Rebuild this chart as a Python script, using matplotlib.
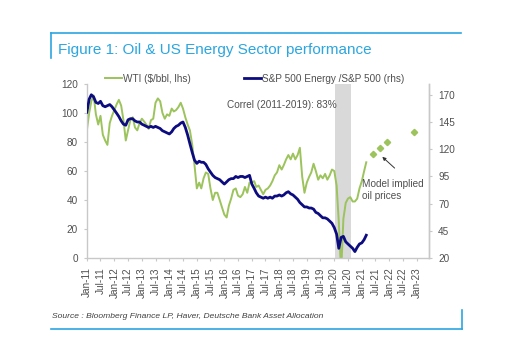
import numpy as np
import pandas as pd
import matplotlib
matplotlib.use("Agg")
import matplotlib.pyplot as plt
from matplotlib.lines import Line2D

plt.rcParams['font.family'] = ['Liberation Sans', 'DejaVu Sans']

# monthly values, Jan-2011 .. Mar-2021
months = pd.date_range('2011-01-01', '2021-03-01', freq='MS')

# WTI ($/bbl), left axis
wti = [88, 100, 108, 112, 99, 92, 98, 85, 81, 78, 93, 98,      # 2011
       102, 106, 109, 105, 95, 81, 88, 95, 97, 90, 88, 93,     # 2012
       96, 94, 92, 89, 95, 96, 107, 110, 108, 100, 96, 99,     # 2013
       98, 103, 101, 102, 104, 107, 103, 97, 92, 88, 78, 64,   # 2014
       48, 52, 48, 55, 59, 58, 48, 40, 45, 45, 40, 35,         # 2015
       30, 28, 36, 41, 47, 48, 43, 42, 44, 49, 45, 52,         # 2016
       52, 53, 49, 50, 47, 44, 47, 48, 50, 53, 57, 59,         # 2017
       64, 61, 64, 68, 71, 68, 72, 68, 71, 76, 56, 45,         # 2018
       52, 56, 59, 65, 60, 54, 57, 55, 58, 54, 57, 61,         # 2019
       60, 50, 25, -10, 27, 38, 41, 42, 39, 39, 41, 48,        # 2020
       53, 60, 66]                                             # 2021

# S&P 500 Energy / S&P 500, right axis
ratio = [154, 166, 170, 168, 163, 162, 164, 160, 159, 160, 161, 159,   # 2011
         156, 153, 150, 146, 143, 142, 147, 148, 148, 146, 145, 145,   # 2012
         143, 142, 141, 140, 141, 140, 141, 140, 139, 137, 136, 135,   # 2013
         134, 136, 139, 141, 142, 144, 145, 140, 133, 125, 117, 110,   # 2014
         107, 109, 108, 108, 106, 102, 99, 96, 94, 93, 92, 90,         # 2015
         88, 90, 92, 93, 93, 95, 94, 95, 95, 94, 95, 96,               # 2016
         88, 84, 80, 77, 76, 75, 76, 75, 76, 75, 77, 77,               # 2017
         78, 77, 78, 80, 81, 79, 78, 76, 74, 71, 69, 67,               # 2018
         67, 66, 66, 65, 62, 61, 59, 57, 57, 56, 54, 52,               # 2019
         48, 42, 29, 39, 40, 35, 33, 31, 29, 26, 30, 33,               # 2020
         34, 37, 41]                                                   # 2021

# model implied oil prices
model_dates = pd.to_datetime(['2021-06-01', '2021-09-01', '2021-12-01', '2022-12-01'])
model_wti = [72, 76, 80, 87]

shade_start, shade_end = pd.Timestamp('2020-01-10'), pd.Timestamp('2020-08-15')

tick_dates = pd.date_range('2011-01-01', '2023-01-01', freq='6MS')
tick_labels = [d.strftime('%b-%y') for d in tick_dates]

green = '#9cc35c'
navy = '#0c0c80'
blue = '#2ba6e0'
grey = '#c8c8c8'
txt = '#505050'

fig = plt.figure(figsize=(5.14, 3.6), dpi=100)
ax = fig.add_axes([0.169, 0.283, 0.666, 0.484])
ax2 = ax.twinx()

ax.axvspan(shade_start, shade_end, color='#d9d9d9', lw=0, zorder=0)
ax.plot(months, wti, color=green, lw=1.4, label='WTI (\\$/bbl, lhs)')
ax.plot(model_dates, model_wti, ls='none', marker='D', ms=3.2, color=green, mec=green)
ax2.plot(months, ratio, color=navy, lw=2.0, label='S&P 500 Energy /S&P 500 (rhs)')

ax.set_xlim(pd.Timestamp('2011-01-01'), pd.Timestamp('2023-06-15'))
ax.set_ylim(0, 120)
ax.set_yticks(np.arange(0, 121, 20))
ax2.set_ylim(20, 180)
ax2.set_yticks(np.arange(20, 171, 25))
ax.set_xticks(tick_dates)
ax.set_xticklabels(tick_labels, rotation=90)

for a in (ax, ax2):
    a.spines['top'].set_visible(False)
    for s in a.spines.values():
        s.set_color(grey)
        s.set_linewidth(1.0)
    a.tick_params(colors=grey, labelcolor=txt, labelsize=7.2, length=2.5, pad=4)
ax2.spines['left'].set_visible(False)
ax2.spines['bottom'].set_visible(False)

# legend above the plot
h1, l1 = ax.get_legend_handles_labels()
h2, l2 = ax2.get_legend_handles_labels()
ax.legend(h1 + h2, l1 + l2, ncol=2, loc='center left', bbox_to_anchor=(0.053, 1.029),
          frameon=False, fontsize=7.2, handlelength=1.7, handletextpad=0.05,
          columnspacing=5.4, borderpad=0, borderaxespad=0, labelcolor=txt)

ax.text(0.409, 0.879, 'Correl (2011-2019): 83%', transform=ax.transAxes,
        fontsize=7.2, color=txt, va='center')
ax.text(0.804, 0.391, 'Model implied\noil prices', transform=ax.transAxes,
        fontsize=7.2, color=txt, va='center', linespacing=1.25)
ax.annotate('', xy=(0.857, 0.592), xytext=(0.905, 0.506),
            xycoords='axes fraction', textcoords='axes fraction',
            arrowprops=dict(arrowstyle='-|>', color='#333333', lw=0.7, mutation_scale=5))

# title / source frame
fig.text(0.112, 0.849, 'Figure 1: Oil & US Energy Sector performance', color=blue,
         fontsize=11, va='baseline')
fig.text(0.1006, 0.116, 'Source : Bloomberg Finance LP, Haver, Deutsche Bank Asset Allocation',
         color='#404040', fontsize=6.1, style='italic', va='baseline')
for xs, ys in [([0.099, 0.897], [0.9075, 0.9075]), ([0.099, 0.099], [0.9075, 0.839]),
               ([0.099, 0.898], [0.0853, 0.0853]), ([0.898, 0.898], [0.0853, 0.139])]:
    fig.add_artist(Line2D(xs, ys, color=blue, lw=1.2, transform=fig.transFigure))

fig.savefig('out.png', dpi=100)
